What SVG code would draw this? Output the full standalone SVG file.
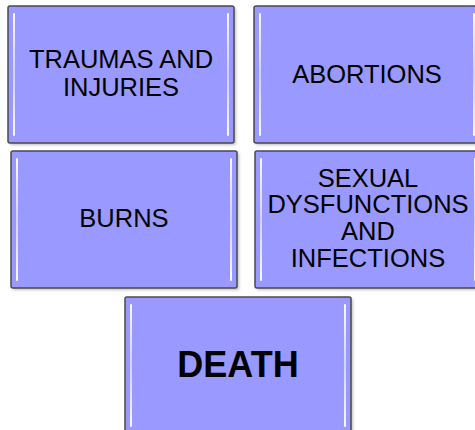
<svg xmlns="http://www.w3.org/2000/svg" width="475" height="430" viewBox="0 0 475 430">
<defs>
<style>
.box{fill:#9999ff;stroke:#4a4a4a;stroke-width:1.5}
.shadow{fill:#000;opacity:0.25}
.hl{fill:url(#hlg)}
.t{font-family:"Liberation Sans",Arial,sans-serif;font-size:25.5px;fill:#000;text-anchor:middle}
.b{font-family:"Liberation Sans",Arial,sans-serif;font-size:36px;font-weight:bold;fill:#000;text-anchor:middle}
</style>
<linearGradient id="hlg" x1="0" y1="0" x2="0" y2="1">
<stop offset="0" stop-color="#fff" stop-opacity="0.95"/>
<stop offset="0.5" stop-color="#fff" stop-opacity="0.55"/>
<stop offset="1" stop-color="#fff" stop-opacity="0.95"/>
</linearGradient>
<filter id="blur" x="-10%" y="-10%" width="120%" height="120%"><feGaussianBlur stdDeviation="1.5"/></filter>
</defs>
<g id="traumas">
<rect class="shadow" x="10" y="8" width="226" height="137" filter="url(#blur)"/>
<rect class="box" x="8" y="6" width="226" height="137" rx="2"/>
<rect class="hl" x="13" y="13" width="2" height="123" rx="1"/>
<rect class="hl" x="227" y="13" width="2" height="123" rx="1"/>
<text class="t" x="121" y="68">TRAUMAS AND</text>
<text class="t" x="121" y="96">INJURIES</text>
</g>
<g id="abortions">
<rect class="shadow" x="256" y="8" width="226" height="137" filter="url(#blur)"/>
<rect class="box" x="254" y="6" width="226" height="137" rx="2"/>
<rect class="hl" x="259" y="13" width="2" height="123" rx="1"/>
<rect class="hl" x="473" y="13" width="2" height="123" rx="1"/>
<text class="t" x="367" y="83">ABORTIONS</text>
</g>
<g id="burns">
<rect class="shadow" x="13" y="153" width="226" height="137" filter="url(#blur)"/>
<rect class="box" x="11" y="151" width="226" height="137" rx="2"/>
<rect class="hl" x="16" y="158" width="2" height="123" rx="1"/>
<rect class="hl" x="230" y="158" width="2" height="123" rx="1"/>
<text class="t" x="124" y="227">BURNS</text>
</g>
<g id="sexual">
<rect class="shadow" x="257" y="153" width="226" height="137" filter="url(#blur)"/>
<rect class="box" x="255" y="151" width="226" height="137" rx="2"/>
<rect class="hl" x="260" y="158" width="2" height="123" rx="1"/>
<rect class="hl" x="474" y="158" width="2" height="123" rx="1"/>
<text class="t" x="368" y="187">SEXUAL</text>
<text class="t" x="368" y="213">DYSFUNCTIONS</text>
<text class="t" x="368" y="240">AND</text>
<text class="t" x="368" y="267">INFECTIONS</text>
</g>
<g id="death">
<rect class="shadow" x="127" y="299" width="226" height="137" filter="url(#blur)"/>
<rect class="box" x="125" y="297" width="226" height="137" rx="2"/>
<rect class="hl" x="130" y="304" width="2" height="123" rx="1"/>
<rect class="hl" x="344" y="304" width="2" height="123" rx="1"/>
<text class="b" x="238" y="377">DEATH</text>
</g>
<g id="connectors"/>
</svg>
